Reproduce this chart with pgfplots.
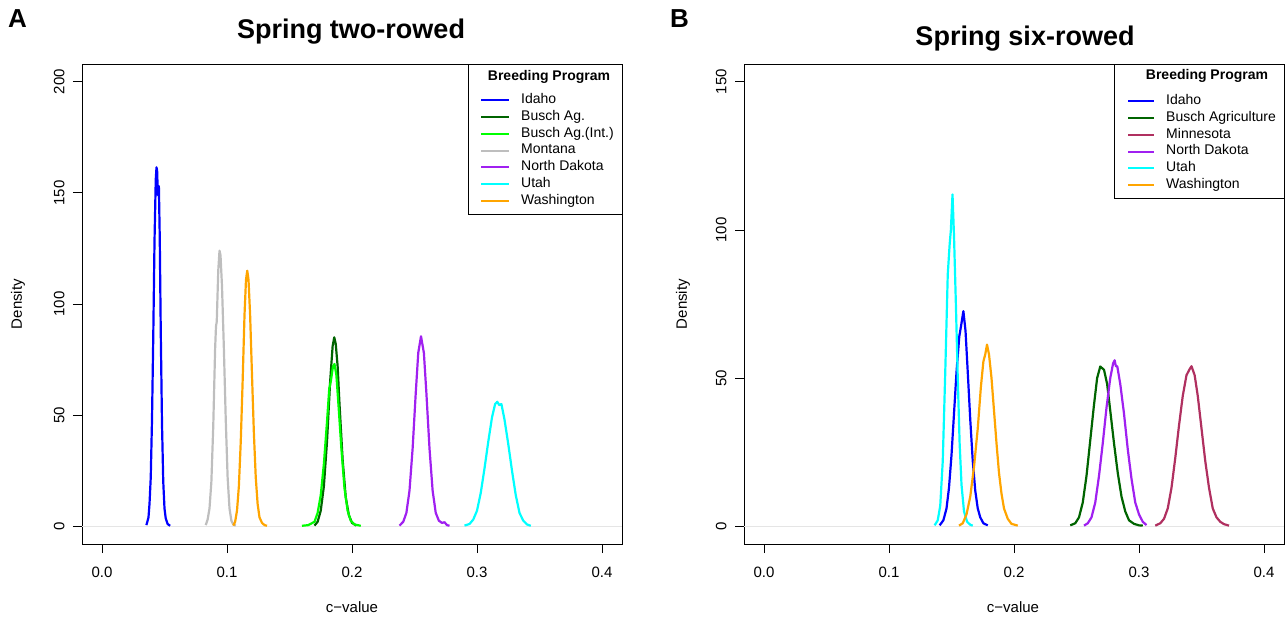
\documentclass[border=0pt]{standalone}
\usepackage{fontspec}
\setmainfont{Liberation Sans}
\usepackage{pgfplots}
\pgfplotsset{compat=1.18}
\definecolor{cIdaho}{HTML}{0000FF}
\definecolor{cBusch}{HTML}{006400}
\definecolor{cBuschInt}{HTML}{00FF00}
\definecolor{cMontana}{HTML}{BEBEBE}
\definecolor{cND}{HTML}{A020F0}
\definecolor{cUtah}{HTML}{00FFFF}
\definecolor{cWash}{HTML}{FFA500}
\definecolor{cMinn}{HTML}{B03060}
\pgfplotsset{
 rstyle/.style={
  scale only axis, width=540pt, height=480pt,
  xmin=-0.016, xmax=0.416, clip=false,
  axis line style={line width=0.8pt},
  every tick/.style={line width=0.8pt, black},
  tick align=outside, major tick length=9pt,
  tick pos=left,
  xtick={0,0.1,0.2,0.3,0.4},
  xticklabel style={/pgf/number format/fixed, /pgf/number format/fixed zerofill, /pgf/number format/precision=1},
  ticklabel style={font=\fontsize{15}{18}\selectfont},
  /pgf/number format/assume math mode=true,
  xticklabel shift=10pt,
  yticklabel shift=5pt,
  yticklabel style={rotate=90, anchor=south},
  legend cell align=left,
  legend style={draw=none, fill=none, inner sep=0pt,
    font=\fontsize{14}{16}\selectfont, row sep=0pt,
    nodes={inner xsep=0pt, inner ysep=1.65pt, text height=10pt, text depth=3.5pt},
    /tikz/every odd column/.append style={column sep=11pt}},
  every axis plot/.append style={line width=2.2pt, line join=round},
 }
}
\begin{document}
\begin{tikzpicture}
\useasboundingbox (0pt,0pt) rectangle (1285pt,-619pt);
% ---------------- Panel A ----------------
\begin{axis}[rstyle, at={(82pt,-544pt)}, anchor=south west,
  ymin=-8, ymax=208, ytick={0,50,100,150,200},
  legend style={at={(rel axis cs:0.737,0.9425)}, anchor=north west},
  legend image code/.code={\draw[#1, line width=2pt] (0pt,0pt) -- (28pt,0pt);}]
\addplot[black!10, line width=0.8pt, forget plot] coordinates {(-0.016,0) (0.416,0)};
\addplot[cIdaho] coordinates {
(0.0355,0.5) (0.0365,2.5) (0.0372,4) (0.0380,10) (0.0390,22) (0.0400,48) (0.0410,85) (0.0420,128)
(0.0430,156) (0.0436,161.5) (0.0441,160) (0.0447,149) (0.0455,153) (0.0462,130) (0.0470,88)
(0.0480,46) (0.0490,20) (0.0500,8) (0.0510,3.5) (0.0525,1) (0.0545,0.2)};
\addlegendentry{Idaho}
\addplot[cBusch] coordinates {
(0.170,0.3) (0.1725,2) (0.175,7) (0.1775,18) (0.180,38) (0.1825,65) (0.1845,81) (0.1858,85)
(0.1870,82) (0.1885,72) (0.190,55) (0.1925,30) (0.195,13) (0.1975,5) (0.200,1.5) (0.2035,0.3)};
\addlegendentry{Busch Ag.}
\addplot[cBuschInt] coordinates {
(0.160,0.2) (0.165,0.5) (0.170,2) (0.1725,6) (0.175,14) (0.1775,28) (0.180,47) (0.1818,62)
(0.1830,65) (0.1848,72) (0.1860,73) (0.1875,68) (0.189,56) (0.1915,35) (0.194,17) (0.1965,7)
(0.199,2.5) (0.202,0.8) (0.207,0.2)};
\addlegendentry{Busch Ag.(Int.)}
\addplot[cMontana] coordinates {
(0.083,0.5) (0.0845,3) (0.086,8) (0.0875,20) (0.089,45) (0.0905,80) (0.0912,90) (0.0918,92)
(0.0930,115) (0.0940,124) (0.0948,122) (0.0960,108) (0.0975,80) (0.099,48) (0.1005,22)
(0.102,8) (0.1035,2.5) (0.105,0.8) (0.107,0.3)};
\addlegendentry{Montana}
\addplot[cND] coordinates {
(0.238,0.3) (0.241,2) (0.2435,6) (0.246,16) (0.2485,35) (0.251,60) (0.253,78) (0.2552,85.5)
(0.2575,78) (0.2595,60) (0.262,35) (0.2645,16) (0.267,6) (0.2695,2.5) (0.272,1.5) (0.274,1.8)
(0.276,0.5) (0.278,0.2)};
\addlegendentry{North Dakota}
\addplot[cUtah] coordinates {
(0.290,0.3) (0.294,1) (0.297,3) (0.300,7) (0.303,15) (0.306,26) (0.309,38) (0.312,49)
(0.3145,55) (0.3162,56) (0.3178,54.5) (0.3195,55) (0.322,48) (0.325,37) (0.328,25) (0.331,14)
(0.334,6) (0.337,2.5) (0.340,0.8) (0.343,0.2)};
\addlegendentry{Utah}
\addplot[cWash] coordinates {
(0.105,0.3) (0.1065,2) (0.108,7) (0.1095,18) (0.111,38) (0.1125,65) (0.114,95) (0.1152,111)
(0.1162,115) (0.1172,111) (0.1185,95) (0.120,68) (0.1215,42) (0.123,22) (0.1245,10) (0.126,4)
(0.128,1.5) (0.130,0.5) (0.132,0.2)};
\addlegendentry{Washington}
\draw[line width=0.8pt] (rel axis cs:0.7148,0.6875) rectangle (rel axis cs:1,1);
\node[font=\bfseries\fontsize{14}{16}\selectfont] at (rel axis cs:0.8648,0.973) {Breeding Program};
\end{axis}
% ---------------- Panel B ----------------
\begin{axis}[rstyle, at={(744pt,-544pt)}, anchor=south west,
  ymin=-6, ymax=156, ytick={0,50,100,150},
  legend style={at={(rel axis cs:0.7093,0.9404)}, anchor=north west},
  legend image code/.code={\draw[#1, line width=2pt] (0pt,0pt) -- (26pt,0pt);}]
\addplot[black!10, line width=0.8pt, forget plot] coordinates {(-0.016,0) (0.416,0)};
\addplot[cIdaho] coordinates {
(0.1405,0.3) (0.1435,2) (0.146,6) (0.148,13) (0.150,24) (0.152,38) (0.154,52) (0.1562,64)
(0.1578,68) (0.1595,72.6) (0.1612,66) (0.163,52) (0.165,36) (0.167,22) (0.169,12) (0.171,6)
(0.173,3) (0.1755,1) (0.179,0.3)};
\addlegendentry{Idaho}
\addplot[cBusch] coordinates {
(0.245,0.3) (0.249,1) (0.252,3) (0.255,8) (0.258,17) (0.261,29) (0.264,41) (0.2665,50)
(0.2690,53.9) (0.2720,52.8) (0.2745,48) (0.277,39) (0.280,28) (0.283,18) (0.286,10) (0.289,5)
(0.292,2) (0.296,0.8) (0.300,0.3) (0.303,0.2)};
\addlegendentry{Busch Agriculture}
\addplot[cMinn] coordinates {
(0.313,0.2) (0.317,1) (0.320,2.5) (0.323,6) (0.326,13) (0.329,23) (0.332,34) (0.335,44)
(0.338,51) (0.3405,53) (0.3420,54) (0.3445,51) (0.347,44) (0.350,33) (0.353,22) (0.356,13)
(0.359,6) (0.362,3) (0.365,1.5) (0.368,0.7) (0.372,0.2)};
\addlegendentry{Minnesota}
\addplot[cND] coordinates {
(0.256,0.2) (0.259,1) (0.262,3) (0.265,8) (0.268,17) (0.271,28) (0.274,40) (0.277,50)
(0.2793,55) (0.2805,56) (0.2815,54) (0.2826,54) (0.285,48) (0.288,38) (0.291,26) (0.294,16)
(0.297,8) (0.300,4) (0.303,1.5) (0.306,0.4)};
\addlegendentry{North Dakota}
\addplot[cUtah] coordinates {
(0.1365,0.3) (0.139,2) (0.141,7) (0.1430,22) (0.1450,52) (0.1470,85) (0.1485,95) (0.1495,100)
(0.1508,112) (0.1520,98) (0.1535,75) (0.155,50) (0.1565,28) (0.158,14) (0.160,5) (0.1625,1.5)
(0.165,0.5) (0.167,0.2)};
\addlegendentry{Utah}
\addplot[cWash] coordinates {
(0.156,0.2) (0.159,1) (0.162,4) (0.165,10) (0.168,20) (0.171,33) (0.1735,47) (0.1755,55.6)
(0.1770,58) (0.1784,61.3) (0.180,58) (0.182,50) (0.184,39) (0.186,28) (0.188,18) (0.190,11)
(0.192,6) (0.195,2.5) (0.198,0.8) (0.203,0.2)};
\addlegendentry{Washington}
\draw[line width=0.8pt] (rel axis cs:0.6852,0.7208) rectangle (rel axis cs:1,1);
\node[font=\bfseries\fontsize{14}{16}\selectfont] at (rel axis cs:0.8574,0.975) {Breeding Program};
\end{axis}
% ---------------- Text ----------------
\node[anchor=base west, font=\bfseries\fontsize{26}{30}\selectfont, inner sep=0pt] at (8pt,-27pt) {A};
\node[anchor=base west, font=\bfseries\fontsize{26}{30}\selectfont, inner sep=0pt] at (670pt,-27pt) {B};
\node[anchor=base, font=\bfseries\fontsize{27}{32}\selectfont, inner sep=0pt] at (351pt,-38pt) {Spring two-rowed};
\node[anchor=base, font=\bfseries\fontsize{27}{32}\selectfont, inner sep=0pt] at (1025pt,-45pt) {Spring six-rowed};
\node[rotate=90, font=\fontsize{15}{18}\selectfont] at (18pt,-304pt) {Density};
\node[rotate=90, font=\fontsize{15}{18}\selectfont] at (683pt,-304pt) {Density};
\node[font=\fontsize{15}{18}\selectfont] at (352pt,-607pt) {c−value};
\node[font=\fontsize{15}{18}\selectfont] at (1013pt,-607pt) {c−value};
\end{tikzpicture}
\end{document}
